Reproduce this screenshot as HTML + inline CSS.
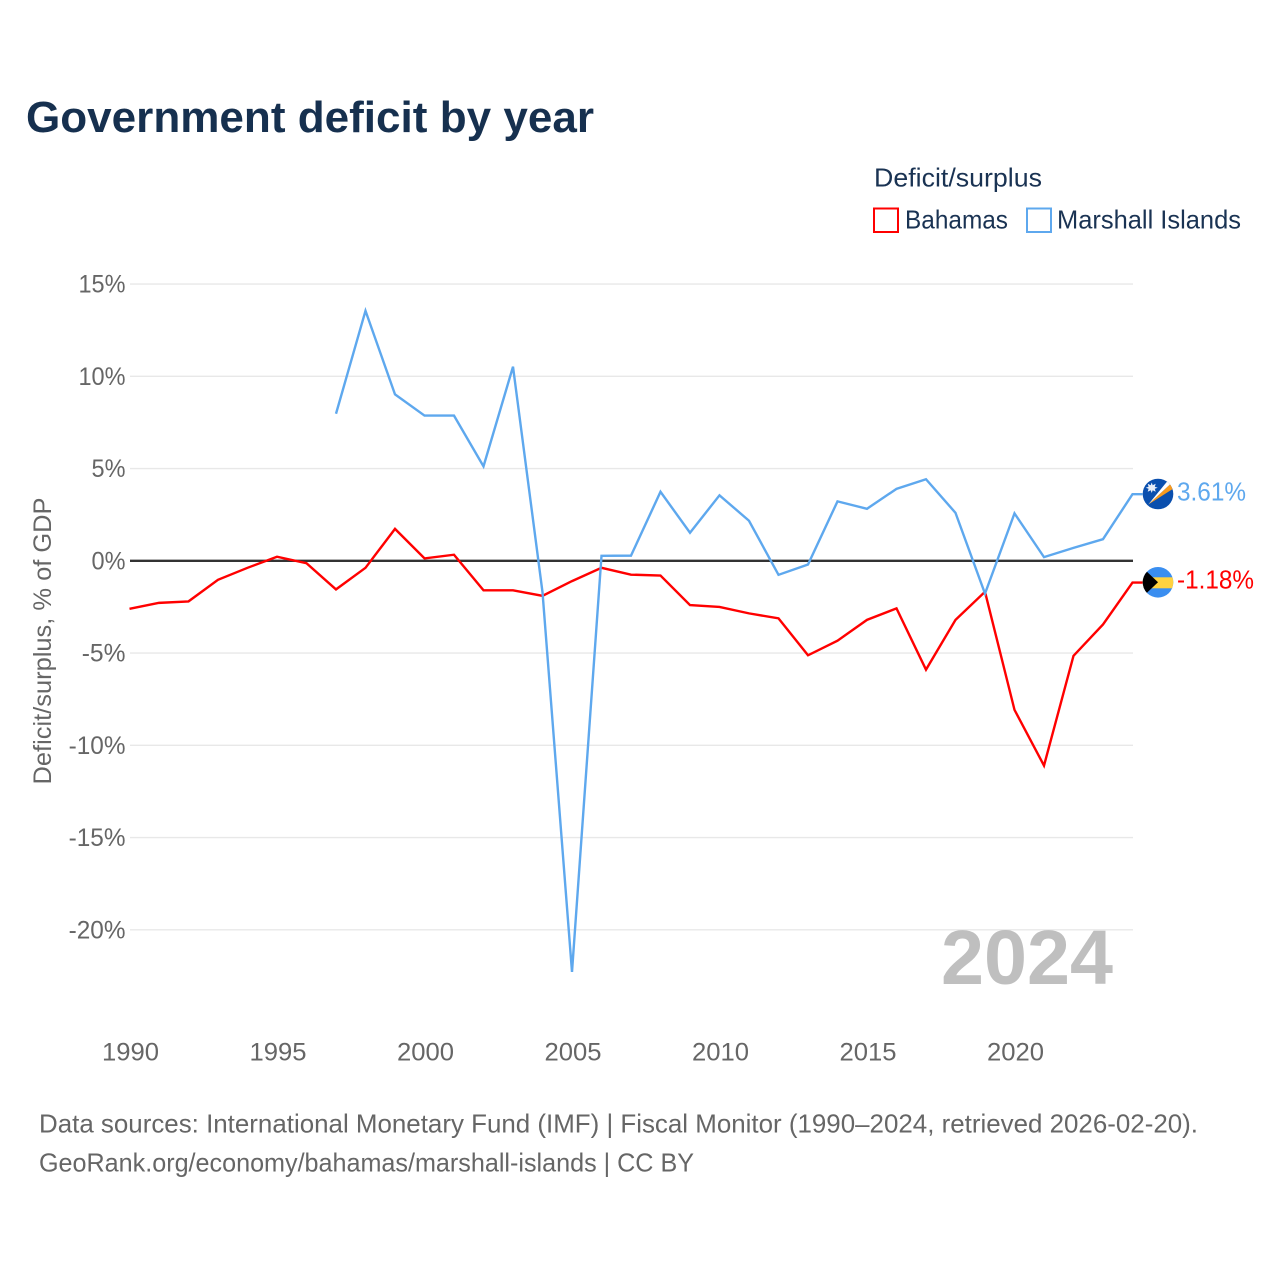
<!DOCTYPE html>
<html lang="en">
<head>
<meta charset="utf-8">
<title>Government deficit by year</title>
<style>
html,body{margin:0;padding:0;background:#fff;}
svg{display:block;font-family:"Liberation Sans",sans-serif;}
</style>
</head>
<body>
<svg id="chart" width="1280" height="1280" viewBox="0 0 1280 1280" xmlns="http://www.w3.org/2000/svg">
  <rect width="1280" height="1280" fill="#ffffff"/>
  <text x="26" y="132" font-size="44" font-weight="700" fill="#16304f" textLength="568" lengthAdjust="spacingAndGlyphs">Government deficit by year</text>
  <text x="874" y="186.500" font-size="26" fill="#1a3353" textLength="168" lengthAdjust="spacingAndGlyphs">Deficit/surplus</text>
  <rect x="874" y="208.500" width="24" height="23.500" fill="#fff" stroke="#ff0000" stroke-width="2"/>
  <text x="905" y="228.500" font-size="26" fill="#1a3353" textLength="103" lengthAdjust="spacingAndGlyphs">Bahamas</text>
  <rect x="1027" y="208.500" width="24" height="23.500" fill="#fff" stroke="#5ea8ee" stroke-width="2"/>
  <text x="1057" y="228.500" font-size="26" fill="#1a3353" textLength="184" lengthAdjust="spacingAndGlyphs">Marshall Islands</text>
  <g id="grid"></g>
  <g id="yticks"></g>
  <g id="xticks"></g>
  <text transform="translate(51,641) rotate(-90)" text-anchor="middle" font-size="25" fill="#666666" textLength="287" lengthAdjust="spacingAndGlyphs">Deficit/surplus, % of GDP</text>
  <text x="941" y="984" font-size="77" font-weight="700" fill="#bfbfbf" textLength="172" lengthAdjust="spacingAndGlyphs">2024</text>
  <g id="series"></g>

  <g>
    <clipPath id="clip-mh"><circle cx="1158" cy="494" r="15.300"/></clipPath>
    <g clip-path="url(#clip-mh)">
      <rect x="1142" y="478" width="32" height="32" fill="#0a4fae"/>
      <polygon points="1148.300,504.500 1171.500,483 1173.500,488.500" fill="#f79a1e"/>
      <polygon points="1148.300,504.500 1167.500,481 1171.500,483" fill="#ffffff"/>
      <polygon points="1151.700,482.500 1152.700,485.300 1155.700,483.700 1154.800,486.800 1157.700,487.700 1154.800,488.700 1155.700,491.700 1152.700,490.200 1151.700,493 1150.700,490.200 1147.700,491.700 1148.600,488.700 1145.700,487.700 1148.600,486.800 1147.700,483.700 1150.700,485.300" fill="#e8eef8"/>
    </g>
  </g>
  <g>
    <clipPath id="clip-bs"><circle cx="1158" cy="582.300" r="15.300"/></clipPath>
    <g clip-path="url(#clip-bs)">
      <rect x="1142" y="566" width="32" height="32" fill="#3a8ef0"/>
      <rect x="1142" y="577.300" width="32" height="11" fill="#ffd23f"/>
      <polygon points="1142,567 1158,582.300 1142,597.500" fill="#000000"/>
    </g>
  </g>
  <text x="1177" y="500.500" font-size="26" fill="#5ea8ee" textLength="69" lengthAdjust="spacingAndGlyphs">3.61%</text>
  <text x="1177" y="588.500" font-size="26" fill="#ff0000" textLength="77" lengthAdjust="spacingAndGlyphs">-1.18%</text>

  <text x="39" y="1132.500" font-size="26" fill="#666666" textLength="1159" lengthAdjust="spacingAndGlyphs">Data sources: International Monetary Fund (IMF) | Fiscal Monitor (1990–2024, retrieved 2026-02-20).</text>
  <text x="39" y="1171.500" font-size="26" fill="#666666" textLength="655" lengthAdjust="spacingAndGlyphs">GeoRank.org/economy/bahamas/marshall-islands | CC BY</text>
</svg>
<script>
var years = [1990,1991,1992,1993,1994,1995,1996,1997,1998,1999,2000,2001,2002,2003,2004,2005,2006,2007,2008,2009,2010,2011,2012,2013,2014,2015,2016,2017,2018,2019,2020,2021,2022,2023,2024];
var bahamasValues = [-2.6,-2.28,-2.2,-1.03,-0.38,0.22,-0.13,-1.55,-0.38,1.73,0.13,0.33,-1.6,-1.6,-1.9,-1.1,-0.38,-0.75,-0.8,-2.4,-2.5,-2.85,-3.12,-5.12,-4.33,-3.2,-2.58,-5.9,-3.2,-1.68,-8.08,-11.1,-5.15,-3.45,-1.18];
var marshallValues = [null,null,null,null,null,null,null,7.97,13.55,9.02,7.87,7.87,5.12,10.52,-1.7,-22.28,0.27,0.28,3.74,1.52,3.55,2.17,-0.76,-0.2,3.22,2.82,3.9,4.42,2.6,-1.78,2.57,0.2,0.7,1.17,3.61];
var yTickValues = [15,10,5,0,-5,-10,-15,-20];
var yTickLabels = ["15%","10%","5%","0%","-5%","-10%","-15%","-20%"];
var xTickValues = [1990,1995,2000,2005,2010,2015,2020];
var xTickLabels = ["1990","1995","2000","2005","2010","2015","2020"];

var NS = 'http://www.w3.org/2000/svg';
function xScale(year){ return 129.5 + (year - 1990) * 29.5; }
function yScale(v){ return 560.8 - v * 18.45; }
function make(tag, attrs, parent){
  var el = document.createElementNS(NS, tag);
  for (var k in attrs) el.setAttribute(k, attrs[k]);
  parent.appendChild(el);
  return el;
}

var grid = document.getElementById('grid');
var yt = document.getElementById('yticks');
yTickValues.forEach(function(v, i){
  var zero = v === 0;
  var line = make('line', {x1:130, x2:1133, y1:yScale(v), y2:yScale(v), stroke:zero ? '#333333' : '#e8e8e8', 'stroke-width':zero ? 2.4 : 1.4}, grid);
  
  
  var t = make('text', {x:125.5, y:yScale(v) + 8.5, 'text-anchor':'end', 'font-size':25, fill:'#666666'}, yt);
  t.textContent = yTickLabels[i];
  
  
  t.setAttribute('textLength', t.getComputedTextLength() * 0.94 + (v < 0 ? 2 : 0));
  t.setAttribute('lengthAdjust', 'spacingAndGlyphs');
});

var xt = document.getElementById('xticks');
xTickValues.forEach(function(v, i){
  var t = make('text', {x:xScale(v) + 1, y:1060.5, 'text-anchor':'middle', 'font-size':25, fill:'#666666', textLength:57, lengthAdjust:'spacingAndGlyphs'}, xt);
  t.textContent = xTickLabels[i];
  
  
});

function drawSeries(values, color, name){
  var pts = [], lastX = 0, lastY = 0;
  values.forEach(function(v, i){
    if (v === null) return;
    lastX = xScale(years[i]);
    lastY = yScale(v);
    pts.push(lastX + ',' + lastY);
  });
  pts.push((lastX + 10) + ',' + lastY);
  var line = make('polyline', {points:pts.join(' '), fill:'none', stroke:color, 'stroke-width':2.4, 'stroke-linejoin':'miter'}, document.getElementById('series'));
  
  
}
drawSeries(bahamasValues, '#ff0000', 'bahamas-line');
drawSeries(marshallValues, '#5ea8ee', 'marshall-islands-line');
</script>
</body>
</html>
